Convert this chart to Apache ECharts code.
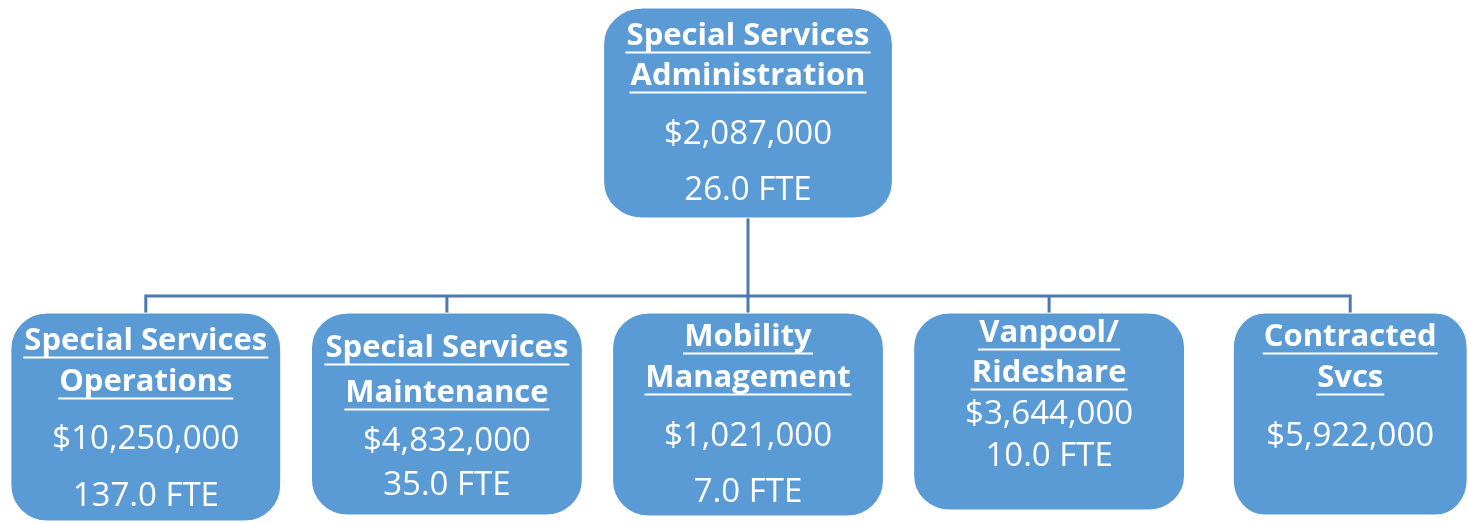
<!DOCTYPE html>
<html>
<head>
<meta charset="utf-8">
<script src="https://cdn.jsdelivr.net/npm/echarts@6/dist/echarts.min.js"></script>
<style>
  html, body { margin: 0; background: #fff; }
  #main { width: 1468px; height: 523px; }
</style>
</head>
<body>
<div id="main"></div>
<script>
const titles = [
  ['Special Services', 'Administration'],
  ['Special Services', 'Operations'],
  ['Special Services', 'Maintenance'],
  ['Mobility', 'Management'],
  ['Vanpool/', 'Rideshare'],
  ['Contracted', 'Svcs']
]
const budgets = [2087000, 10250000, 4832000, 1021000, 3644000, 5922000]
const fte = [26.0, 137.0, 35.0, 7.0, 10.0, null]

// per box look: size and text spacing
const boxSize = [[289, 210], [270, 208], [271, 202], [271, 203], [271, 197], [234, 202]]
const textTop = [14, 14, 21, 10, 6, 10]
const titleGap = [8, 9, 13, 9, 8, 9]
const valueGap = [13, 12, 9, 13, 3, 13]
const valueLine = [56, 57, 44, 56, 42, 56]

const font = 'Open Sans'
const titleSize = 31
const valueSize = 33

const rich = {
  t: { fontFamily: font, fontSize: titleSize, fontWeight: 'bold', lineHeight: 30, color: '#fff' }
}
const ctx = document.createElement('canvas').getContext('2d')
ctx.font = 'bold ' + titleSize + 'px "' + font + '"'

titles.forEach((lines, i) => {
  lines.forEach((s, j) => {
    rich['u' + i + '_' + j] = {
      width: Math.round(ctx.measureText(s).width) + 2,
      height: 2, lineHeight: 2, fontSize: 1, backgroundColor: '#fff'
    }
  })
})
titleGap.concat(valueGap).forEach(g => {
  rich['g' + g] = { fontSize: 1, lineHeight: g }
})
valueLine.forEach(h => {
  rich['v' + h] = { fontFamily: font, fontSize: valueSize, lineHeight: h, color: '#fff' }
})

const labelText = i => {
  const out = []
  titles[i].forEach((s, j) => {
    out.push('{t|' + s + '}')
    out.push('{u' + i + '_' + j + '| }')
    if (j < titles[i].length - 1) out.push('{g' + titleGap[i] + '| }')
  })
  out.push('{g' + valueGap[i] + '| }')
  out.push('{v' + valueLine[i] + '|$' + budgets[i].toLocaleString('en-US') + '}')
  if (fte[i] != null) out.push('{v' + valueLine[i] + '|' + fte[i].toFixed(1) + ' FTE}')
  return out.join('\n')
}

const node = i => ({
  name: titles[i].join(' '),
  value: budgets[i],
  symbolSize: boxSize[i],
  symbolOffset: i === 0 ? [0, 0] : [0, boxSize[i][1] / 2 - 100],
  label: {
    position: 'insideTop',
    distance: textTop[i],
    formatter: labelText(i)
  }
})

const root = Object.assign(node(0), { children: [1, 2, 3, 4, 5].map(node) })

const chart = echarts.init(document.getElementById('main'))
chart.setOption({
  animation: false,
  series: [
    {
      type: 'tree',
      data: [root],
      orient: 'TB',
      layout: 'orthogonal',
      edgeShape: 'polyline',
      edgeForkPosition: '61%',
      left: -4.75,
      top: 113,
      width: 1505.5,
      height: 300,
      roam: false,
      expandAndCollapse: false,
      initialTreeDepth: -1,
      symbol: 'path://M36,0H234A36,36,0,0,1,270,36V172A36,36,0,0,1,234,208H36A36,36,0,0,1,0,172V36A36,36,0,0,1,36,0Z',
      itemStyle: {
        color: '#5B9BD5',
        borderColor: '#fff',
        borderWidth: 1
      },
      lineStyle: {
        color: '#4A7AB0',
        width: 3
      },
      label: {
        color: '#fff',
        rich: rich
      },
      leaves: {
        label: { position: 'insideTop', color: '#fff', rich: rich }
      },
      emphasis: { disabled: true }
    }
  ]
})
</script>
</body>
</html>
